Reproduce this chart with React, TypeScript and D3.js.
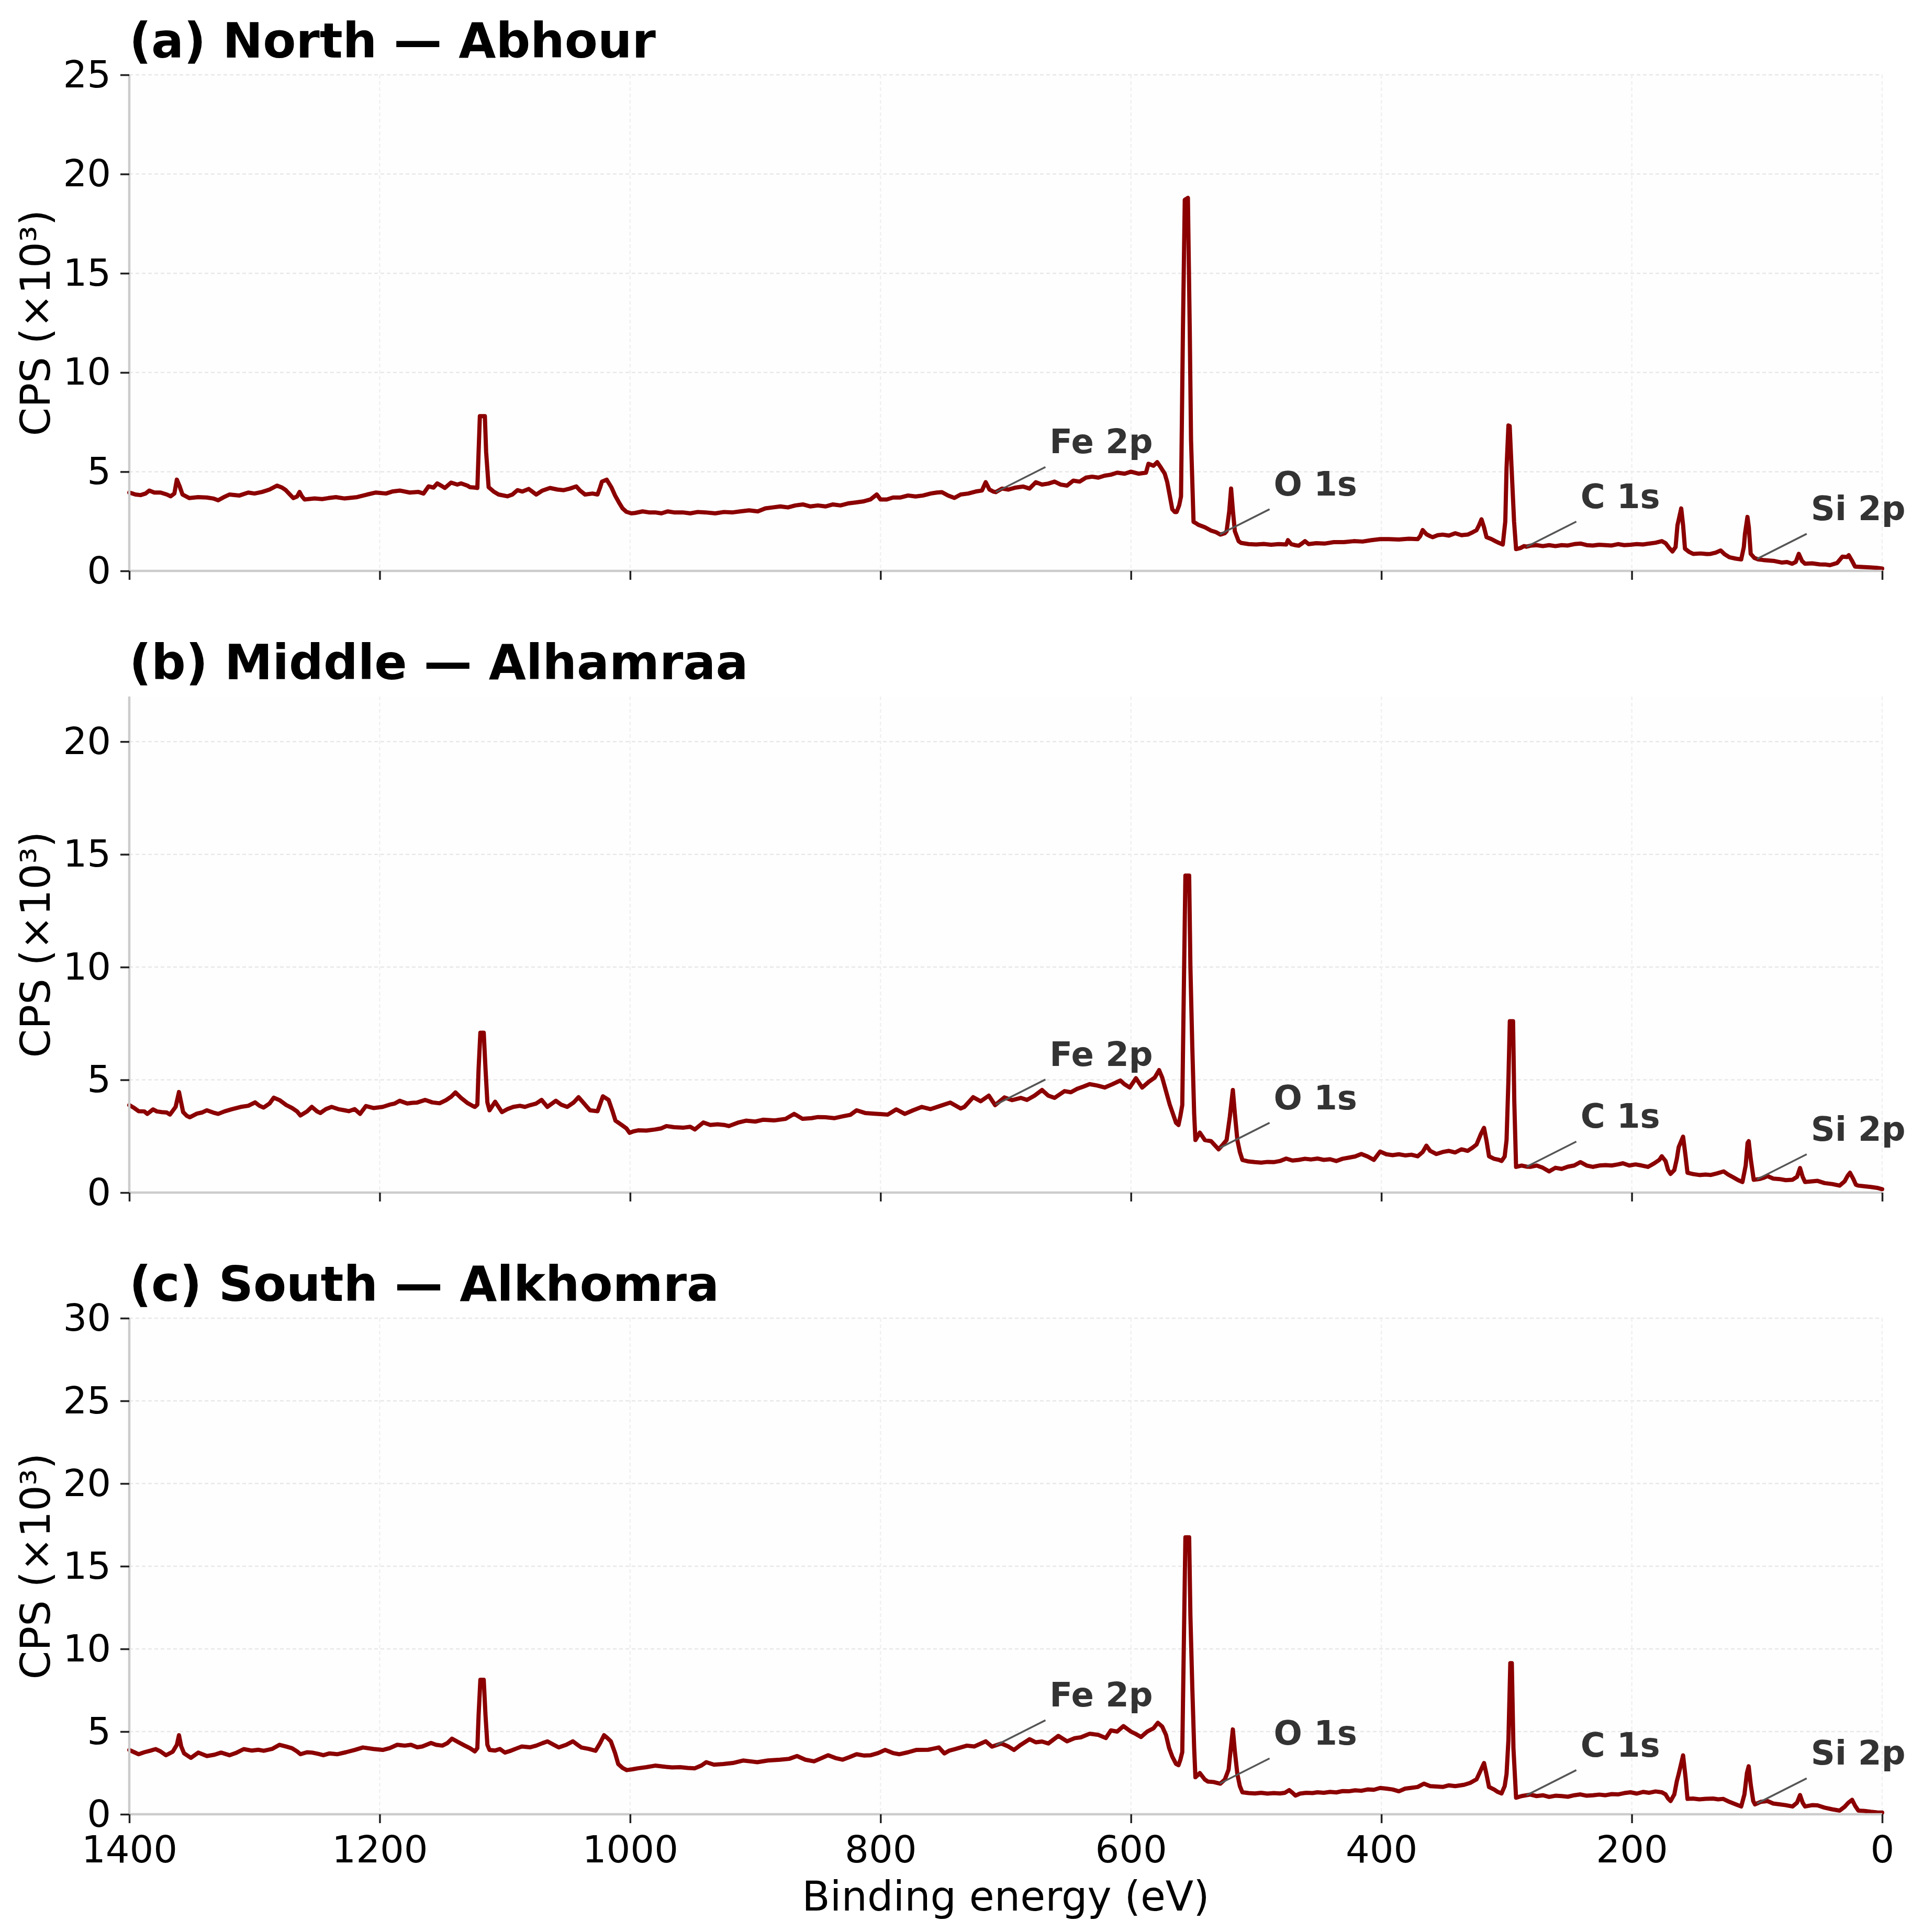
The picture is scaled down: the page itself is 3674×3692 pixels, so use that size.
import React, { useRef, useEffect } from "react";
import * as d3 from "d3";

// [binding energy (eV), CPS x10^3]
type Pt = [number, number];

const northSpectrum: Pt[] = [
  [1400, 3.95], [1395, 3.85], [1391, 3.82], [1387, 3.9], [1384, 4.05], [1380, 3.95], [1375, 3.95], [1370, 3.85],
  [1367, 3.76], [1364, 3.9], [1362, 4.6], [1360, 4.3], [1357.5, 3.85], [1352, 3.67], [1345, 3.72], [1338, 3.7],
  [1333, 3.65], [1329, 3.56], [1325, 3.7], [1320, 3.85], [1312, 3.8], [1305, 3.95], [1300, 3.9], [1294, 3.98],
  [1288, 4.1], [1282, 4.3], [1278, 4.2], [1275, 4.07], [1269, 3.67], [1266, 3.75], [1264, 3.98], [1262, 3.75],
  [1260, 3.6], [1252, 3.65], [1246, 3.62], [1241, 3.67], [1235, 3.72], [1228, 3.65], [1218, 3.72], [1210, 3.85],
  [1203, 3.95], [1195, 3.9], [1190, 4.0], [1184, 4.05], [1176, 3.95], [1169, 3.98], [1165, 3.9], [1161, 4.26],
  [1157, 4.2], [1154, 4.41], [1151, 4.3], [1148, 4.18], [1143, 4.45], [1138, 4.35], [1135, 4.41], [1130, 4.3],
  [1128, 4.22], [1124, 4.2], [1122, 4.18], [1121, 6.0], [1120, 7.8], [1116, 7.8], [1115, 6.0], [1113, 4.22],
  [1109, 4.0], [1105, 3.85], [1098, 3.76], [1094, 3.85], [1090, 4.07], [1086, 4.0], [1081, 4.13], [1075, 3.85],
  [1070, 4.05], [1064, 4.18], [1058, 4.1], [1053, 4.07], [1048, 4.15], [1043, 4.26], [1040, 4.05], [1036, 3.85],
  [1030, 3.9], [1026, 3.85], [1024, 4.2], [1022.5, 4.5], [1018.7, 4.6], [1015, 4.22], [1012, 3.8], [1009, 3.46],
  [1006, 3.15], [1003, 2.98], [999, 2.9], [996, 2.92], [990, 3.0], [985, 2.95], [980, 2.95], [975, 2.9],
  [970, 3.0], [965, 2.95], [958, 2.95], [952, 2.9], [946, 2.97], [940, 2.95], [932, 2.9], [925, 2.97],
  [918, 2.95], [912, 3.0], [905, 3.05], [898, 3.0], [892, 3.15], [886, 3.2], [880, 3.25], [874, 3.2],
  [868, 3.3], [862, 3.35], [856, 3.25], [850, 3.3], [844, 3.25], [838, 3.35], [832, 3.3], [826, 3.4],
  [820, 3.45], [814, 3.5], [808, 3.6], [803, 3.85], [800, 3.6], [795, 3.6], [790, 3.7], [784, 3.7],
  [778, 3.8], [772, 3.75], [766, 3.8], [760, 3.9], [755, 3.95], [751, 3.97], [746, 3.8], [741, 3.68],
  [736, 3.85], [730, 3.9], [724, 4.0], [719, 4.05], [716, 4.47], [713, 4.1], [710, 4.0], [708, 3.97],
  [703, 4.15], [698, 4.1], [692, 4.2], [686, 4.25], [681, 4.15], [676, 4.47], [671, 4.35], [666, 4.4],
  [661, 4.5], [656, 4.35], [651, 4.3], [646, 4.55], [641, 4.5], [636, 4.7], [631, 4.75], [626, 4.7],
  [621, 4.8], [616, 4.85], [611, 4.95], [605, 4.9], [600, 5.0], [594, 4.9], [588, 4.95], [586, 5.4],
  [582, 5.3], [579, 5.48], [576, 5.2], [573, 4.9], [571, 4.47], [569, 3.8], [567, 3.11], [565, 2.97],
  [563.5, 2.97], [561.5, 3.3], [560, 3.75], [558.5, 12.0], [557, 18.7], [554.5, 18.8], [553, 12.0], [552, 6.6],
  [550, 2.47], [548, 2.4], [546, 2.32], [541, 2.2], [536, 2.03], [532, 1.95], [528.6, 1.83], [525, 1.9],
  [523.6, 2.0], [521.5, 3.0], [520, 4.15], [518.5, 3.0], [517, 2.0], [514, 1.5], [512, 1.41], [506, 1.35],
  [500, 1.33], [494, 1.36], [488, 1.32], [482, 1.35], [476, 1.33], [474.6, 1.55], [472, 1.35], [469, 1.3],
  [466, 1.27], [463, 1.4], [461, 1.5], [458, 1.35], [452, 1.4], [445, 1.38], [438, 1.45], [430, 1.45],
  [422, 1.5], [415, 1.48], [408, 1.55], [401, 1.6], [394, 1.6], [386, 1.58], [378, 1.62], [371, 1.6],
  [369, 1.75], [367, 2.06], [364, 1.85], [361, 1.75], [359, 1.7], [355, 1.8], [351, 1.83], [346, 1.78],
  [341, 1.9], [336, 1.8], [331, 1.83], [327, 1.95], [324, 2.05], [322, 2.3], [320, 2.6], [318, 2.2],
  [316, 1.7], [312, 1.6], [309, 1.5], [306, 1.41], [303, 1.33], [301, 2.5], [300, 5.2], [298.5, 7.33],
  [297.5, 7.3], [296, 5.2], [294, 2.5], [292.4, 1.1], [289, 1.15], [286, 1.25], [284, 1.22], [281, 1.27],
  [276, 1.3], [271, 1.25], [266, 1.3], [261, 1.25], [256, 1.3], [251, 1.28], [246, 1.35], [241, 1.38],
  [236, 1.3], [231, 1.28], [226, 1.32], [221, 1.3], [216, 1.28], [211, 1.35], [206, 1.3], [201, 1.32],
  [196, 1.35], [191, 1.33], [186, 1.38], [181, 1.42], [176, 1.5], [173, 1.4], [170, 1.15], [167.5, 0.98],
  [165, 1.2], [163.5, 2.3], [160.5, 3.15], [159, 2.3], [157.5, 1.12], [154, 0.95], [151, 0.86], [145, 0.88],
  [140, 0.85], [137, 0.86], [133, 0.92], [129, 1.03], [126, 0.85], [122, 0.69], [117, 0.62], [112.6, 0.58],
  [110.5, 1.2], [109.6, 1.86], [107.6, 2.72], [106.5, 2.2], [105, 0.86], [102, 0.65], [99, 0.58], [95, 0.55],
  [90, 0.52], [86, 0.5], [80, 0.42], [76, 0.45], [72, 0.36], [69, 0.45], [66.6, 0.86], [64, 0.5],
  [61.6, 0.36], [56, 0.38], [50, 0.33], [45, 0.32], [41.7, 0.29], [36, 0.4], [31.7, 0.72], [28, 0.7],
  [26.7, 0.79], [24, 0.5], [21.7, 0.22], [16, 0.2], [10, 0.18], [4, 0.15], [0, 0.12],
];

const middleSpectrum: Pt[] = [
  [1400, 3.88], [1396, 3.75], [1392.5, 3.61], [1388, 3.6], [1385.6, 3.49], [1381, 3.69], [1378, 3.6], [1374, 3.57],
  [1370, 3.55], [1367.5, 3.46], [1363, 3.8], [1360.3, 4.46], [1357, 3.57], [1354, 3.4], [1351.7, 3.34], [1346, 3.5],
  [1342, 3.55], [1338, 3.65], [1333, 3.55], [1329, 3.49], [1324, 3.6], [1318, 3.7], [1311, 3.8], [1305, 3.85],
  [1299.5, 4.0], [1296, 3.85], [1292.7, 3.77], [1288, 3.95], [1284.6, 4.21], [1280, 4.1], [1274.6, 3.88], [1270, 3.75],
  [1266, 3.6], [1263.3, 3.42], [1258, 3.6], [1254.2, 3.8], [1250, 3.6], [1247.4, 3.53], [1243, 3.7], [1238.4, 3.8],
  [1233, 3.7], [1228, 3.65], [1224.7, 3.61], [1220, 3.7], [1215.7, 3.49], [1211, 3.84], [1205, 3.75], [1197.6, 3.8],
  [1192, 3.9], [1188, 3.95], [1184, 4.07], [1178, 3.95], [1174, 3.98], [1170.4, 3.99], [1163.6, 4.11], [1158, 4.0],
  [1152.2, 3.96], [1147, 4.1], [1143, 4.25], [1139.5, 4.44], [1135, 4.2], [1129.6, 3.96], [1126, 3.85], [1124, 3.8],
  [1122, 3.9], [1121, 5.5], [1119.6, 7.09], [1116.9, 7.09], [1115.5, 5.5], [1114, 4.0], [1112.3, 3.65], [1107.8, 4.03],
  [1102.4, 3.57], [1098, 3.7], [1093.3, 3.8], [1088, 3.85], [1084, 3.8], [1079.7, 3.88], [1075, 3.95], [1070.7, 4.11],
  [1066.1, 3.8], [1059.3, 4.07], [1055, 3.9], [1050.2, 3.8], [1045, 4.0], [1041.2, 4.23], [1036, 3.9], [1032.1, 3.65],
  [1026, 3.61], [1023.5, 4.0], [1021.7, 4.27], [1017.2, 4.11], [1014, 3.6], [1011.7, 3.19], [1006.3, 2.98], [1003, 2.85],
  [1000.4, 2.65], [997, 2.72], [993.6, 2.76], [987, 2.75], [980, 2.8], [975, 2.85], [971, 2.95], [965, 2.9],
  [957.3, 2.88], [952, 2.92], [948.3, 2.8], [941.5, 3.11], [936, 3.0], [930.2, 3.03], [925, 3.0], [921.1, 2.95],
  [914, 3.1], [907.5, 3.19], [900, 3.15], [893.9, 3.23], [885, 3.2], [875.8, 3.27], [869, 3.49], [862.2, 3.27],
  [855, 3.3], [850, 3.35], [844, 3.34], [837, 3.3], [830.4, 3.38], [824, 3.45], [819.1, 3.65], [812.3, 3.53],
  [805, 3.5], [800, 3.48], [794.2, 3.46], [787.4, 3.69], [780.6, 3.49], [774, 3.65], [767, 3.8], [760, 3.7],
  [752, 3.85], [744.3, 3.99], [736, 3.73], [733, 3.8], [726, 4.23], [720, 4.05], [713.5, 4.3], [708.5, 3.88],
  [701, 4.22], [695, 4.1], [688, 4.2], [683, 4.11], [677, 4.3], [671, 4.55], [666, 4.3], [661, 4.2],
  [653, 4.5], [648, 4.45], [643, 4.6], [638, 4.7], [633, 4.81], [627, 4.75], [621, 4.66], [615, 4.8],
  [608.5, 4.97], [605, 4.8], [601, 4.66], [596, 5.07], [591, 4.66], [586, 4.9], [581, 5.1], [577.5, 5.43],
  [575, 5.1], [572, 4.5], [569, 3.9], [567, 3.58], [564, 3.1], [562, 3.0], [560.5, 3.4], [559, 3.88],
  [558, 8.0], [556.5, 14.06], [553.5, 14.06], [552.5, 10.0], [551, 6.48], [549.5, 3.5], [548.5, 2.33], [545, 2.66],
  [541, 2.33], [536, 2.28], [533, 2.1], [530, 1.92], [527, 2.1], [523.6, 2.33], [521, 3.37], [518.6, 4.55],
  [517, 3.5], [515, 2.33], [513, 1.8], [511, 1.45], [506, 1.38], [501, 1.35], [496, 1.33], [491, 1.36],
  [486, 1.35], [481, 1.4], [476, 1.51], [471, 1.42], [466, 1.45], [461, 1.5], [456, 1.47], [451, 1.51],
  [446, 1.45], [441, 1.48], [436, 1.4], [431, 1.5], [426, 1.55], [421, 1.6], [416, 1.71], [411, 1.6],
  [406, 1.45], [401, 1.82], [396, 1.7], [391, 1.66], [386, 1.7], [381, 1.65], [376, 1.68], [371, 1.61],
  [367, 1.8], [364, 2.08], [361, 1.85], [356, 1.71], [351, 1.8], [346, 1.85], [341, 1.78], [336, 1.92],
  [331, 1.85], [327, 2.0], [324, 2.13], [320.5, 2.6], [318, 2.87], [316, 2.3], [314, 1.61], [310, 1.5],
  [306, 1.45], [304, 1.4], [301.5, 1.6], [300, 2.33], [298.5, 5.0], [297.4, 7.6], [294.8, 7.6], [293.8, 4.0],
  [292.4, 1.14], [288, 1.2], [284, 1.15], [281, 1.14], [276, 1.2], [271, 1.1], [266, 0.94], [261, 1.1],
  [256, 1.05], [251, 1.15], [246, 1.2], [241, 1.35], [236, 1.2], [231, 1.14], [226, 1.2], [221, 1.22],
  [216, 1.2], [211, 1.25], [207, 1.3], [202, 1.2], [197, 1.25], [192, 1.2], [187, 1.14], [182, 1.3],
  [178, 1.45], [176, 1.61], [173, 1.4], [171, 1.0], [169, 0.83], [166, 1.0], [164, 1.5], [162.5, 2.02],
  [159, 2.48], [157, 1.6], [155.5, 0.88], [151, 0.82], [146, 0.78], [141, 0.8], [137, 0.78], [132, 0.85],
  [126.6, 0.94], [123, 0.8], [119, 0.68], [115, 0.55], [111.6, 0.47], [109, 1.2], [107.5, 2.2], [106.6, 2.28],
  [105, 1.5], [102.6, 0.57], [98, 0.6], [95, 0.65], [91.6, 0.73], [87, 0.62], [82, 0.6], [77, 0.55],
  [71.6, 0.57], [68, 0.7], [65.6, 1.09], [63.5, 0.7], [61.6, 0.47], [56, 0.5], [51.6, 0.52], [46, 0.42],
  [40, 0.38], [34, 0.31], [30, 0.5], [27.5, 0.75], [25.7, 0.88], [23, 0.6], [21, 0.35], [19, 0.31],
  [14, 0.28], [9, 0.25], [4, 0.21], [0, 0.15],
];

const southSpectrum: Pt[] = [
  [1400, 3.89], [1396, 3.75], [1392.5, 3.63], [1388, 3.75], [1383, 3.85], [1379, 3.94], [1375, 3.8], [1370.7, 3.57],
  [1365.3, 3.78], [1362, 4.2], [1360.3, 4.78], [1358.5, 4.1], [1356.2, 3.68], [1350.8, 3.41], [1344.9, 3.73], [1338, 3.52],
  [1332, 3.6], [1326.7, 3.73], [1320, 3.57], [1315, 3.7], [1308.6, 3.94], [1302, 3.85], [1297, 3.9], [1292.7, 3.84],
  [1286, 3.95], [1280, 4.2], [1275, 4.1], [1270, 3.99], [1266, 3.8], [1263.3, 3.63], [1258, 3.75], [1254, 3.73],
  [1249, 3.65], [1245, 3.57], [1240, 3.68], [1234, 3.63], [1227, 3.75], [1220, 3.89], [1213.4, 4.04], [1205, 3.95],
  [1197.6, 3.89], [1192, 4.0], [1186, 4.2], [1180, 4.15], [1175, 4.2], [1170, 4.05], [1166, 4.1], [1159, 4.31],
  [1155, 4.2], [1150, 4.15], [1146, 4.3], [1142.3, 4.57], [1137, 4.35], [1132, 4.15], [1128, 4.0], [1124, 3.8],
  [1122, 4.0], [1121, 6.0], [1119.6, 8.13], [1116.9, 8.13], [1115.5, 6.0], [1114, 4.2], [1112.3, 3.89], [1108, 3.85],
  [1104, 3.95], [1100, 3.73], [1095, 3.85], [1090, 4.0], [1086.5, 4.1], [1080, 4.05], [1075, 4.15], [1070, 4.3],
  [1066, 4.41], [1061, 4.2], [1057, 4.04], [1051, 4.2], [1045.7, 4.41], [1042, 4.2], [1039, 4.04], [1033, 3.95],
  [1027.6, 3.84], [1024, 4.3], [1020.8, 4.78], [1018, 4.6], [1015.4, 4.41], [1012, 3.7], [1009.5, 3.04], [1006, 2.8],
  [1002.7, 2.67], [998, 2.72], [993.6, 2.78], [987, 2.85], [980, 2.94], [973, 2.88], [966.4, 2.83], [960, 2.85],
  [954, 2.8], [948.3, 2.78], [943, 2.95], [939.2, 3.15], [933, 3.0], [925.6, 3.04], [918, 3.1], [909.8, 3.25],
  [904, 3.2], [898.4, 3.15], [890, 3.25], [880.3, 3.3], [873, 3.35], [866.7, 3.52], [860, 3.3], [853.1, 3.2],
  [847, 3.4], [841.8, 3.57], [836, 3.4], [830.4, 3.3], [825, 3.45], [819.1, 3.63], [813, 3.55], [807.8, 3.57],
  [802, 3.7], [796.4, 3.89], [790, 3.7], [785.1, 3.63], [778, 3.75], [771.5, 3.89], [762, 3.9], [753.4, 4.04],
  [749, 3.68], [745, 3.85], [740, 3.95], [731, 4.15], [725, 4.1], [716, 4.41], [711, 4.09], [703.5, 4.28],
  [698, 4.1], [693.4, 3.89], [688, 4.2], [681, 4.54], [676, 4.35], [671, 4.4], [666, 4.28], [658, 4.74],
  [651, 4.41], [645, 4.6], [640, 4.65], [633, 4.87], [626, 4.8], [620, 4.61], [616, 5.07], [611, 5.0],
  [606, 5.33], [600, 5.0], [596, 4.85], [592, 4.67], [587, 5.0], [582, 5.2], [578.5, 5.53], [575, 5.3],
  [572, 4.8], [569.5, 4.0], [567, 3.49], [564, 3.05], [562, 2.97], [560.5, 3.3], [559, 3.76], [558, 9.0],
  [556.5, 16.75], [553.5, 16.75], [552.5, 12.0], [551, 7.7], [549.5, 4.0], [548.5, 2.24], [545, 2.49], [541, 2.1],
  [538.6, 1.98], [534, 1.95], [528.6, 1.85], [525, 2.1], [522, 2.7], [520.5, 3.8], [518.6, 5.13], [517, 3.8],
  [515, 2.43], [513, 1.7], [511, 1.33], [506, 1.28], [501, 1.26], [496, 1.3], [491, 1.25], [486, 1.28],
  [481, 1.26], [477, 1.3], [473.6, 1.46], [471, 1.3], [468.6, 1.13], [465, 1.25], [460, 1.3], [455, 1.28],
  [451, 1.33], [446, 1.3], [441, 1.35], [436, 1.32], [431, 1.4], [426, 1.39], [421, 1.45], [416, 1.42],
  [411, 1.5], [406, 1.48], [401, 1.59], [396, 1.55], [391, 1.5], [386, 1.39], [381, 1.55], [376, 1.6],
  [371, 1.65], [366, 1.85], [361, 1.7], [356, 1.68], [351, 1.65], [346, 1.75], [341, 1.7], [334, 1.78],
  [329, 1.9], [324, 2.11], [321, 2.6], [318, 3.1], [316, 2.4], [314, 1.65], [310, 1.5], [307, 1.35],
  [304, 1.26], [301.5, 1.7], [300, 2.43], [298.5, 4.5], [297, 9.14], [295.8, 9.14], [294.5, 4.0], [292.4, 1.0],
  [288, 1.1], [284, 1.15], [281, 1.19], [276, 1.1], [271, 1.15], [266, 1.05], [261, 1.12], [256, 1.1],
  [251, 1.06], [246, 1.15], [241, 1.2], [236, 1.12], [231, 1.15], [226, 1.19], [221, 1.15], [216, 1.22],
  [211, 1.2], [206, 1.28], [201, 1.33], [196, 1.25], [191, 1.35], [186, 1.3], [181, 1.38], [176, 1.33],
  [173, 1.2], [171, 0.95], [169, 0.8], [166, 1.2], [164, 2.0], [162.5, 2.44], [159, 3.56], [157, 2.2],
  [155.5, 0.93], [151, 0.95], [146, 0.9], [141, 0.93], [135, 0.95], [131, 0.9], [127, 0.93], [122, 0.75],
  [117, 0.6], [112.6, 0.47], [110, 1.2], [108, 2.5], [106.6, 2.9], [105, 1.8], [103, 0.8], [101.6, 0.6],
  [97, 0.75], [91.6, 0.8], [87, 0.65], [82, 0.6], [77, 0.55], [71.6, 0.47], [68, 0.7], [65.6, 1.16],
  [63.5, 0.7], [61.6, 0.47], [56, 0.55], [51.6, 0.54], [46, 0.4], [40, 0.3], [34, 0.22], [30, 0.45],
  [27, 0.7], [24, 0.87], [21.5, 0.5], [19, 0.22], [14, 0.2], [9, 0.15], [4, 0.11], [0, 0.1],
];

const panelTitles = ["(a) North — Abhour", "(b) Middle — Alhamraa", "(c) South — Alkhomra"];
const panelYMax = [25, 22, 30];
const xTicks = [1400, 1200, 1000, 800, 600, 400, 200, 0];
const peakLabels = ["Fe 2p", "O 1s", "C 1s", "Si 2p"];
const peakEnergies = [708, 529, 284, 100];

const W = 3674;
const H = 3692;
const FONT = "'DejaVu Sans', sans-serif";

export default function App() {
  const ref = useRef<SVGSVGElement>(null);

  useEffect(() => {
    if (!ref.current) return;
    const svg = d3.select(ref.current);
    svg.selectAll("*").remove();

    const left = 247, right = 3596;
    const panelH = 948, step = 1188, firstTop = 143;
    const spectra = [northSpectrum, middleSpectrum, southSpectrum];

    const x = d3.scaleLinear().domain([1400, 0]).range([left, right]);

    // value of a spectrum at a given energy (used only to anchor the peak labels)
    const valueAt = (data: Pt[], e: number) => {
      for (let k = 0; k < data.length - 1; k++) {
        const [e0, v0] = data[k], [e1, v1] = data[k + 1];
        if (e <= e0 && e >= e1) return v0 + (v1 - v0) * (e0 - e) / (e0 - e1 || 1);
      }
      return data[data.length - 1][1];
    };

    spectra.forEach((data, i) => {
      const top = firstTop + i * step;
      const bottom = top + panelH;
      const y = d3.scaleLinear().domain([0, panelYMax[i]]).range([bottom, top]);
      const yTicks = d3.range(0, panelYMax[i] + 0.01, 5);
      const g = svg.append("g");

      // axes background
      g.append("rect")
        .attr("x", left).attr("y", top)
        .attr("width", right - left).attr("height", panelH)
        .attr("fill", "#fefefe");

      // grid
      g.selectAll("line.hgrid").data(yTicks).enter().append("line")
        .attr("x1", left).attr("x2", right)
        .attr("y1", d => y(d)).attr("y2", d => y(d))
        .attr("stroke", "#e8e8e8").attr("stroke-width", 2.5)
        .attr("stroke-dasharray", "7,5");
      g.selectAll("line.vgrid").data(xTicks).enter().append("line")
        .attr("x1", d => x(d)).attr("x2", d => x(d))
        .attr("y1", top).attr("y2", bottom)
        .attr("stroke", "#f0f0f0").attr("stroke-width", 2.5)
        .attr("stroke-dasharray", "7,5");

      // spectrum
      const line = d3.line<Pt>().x(d => x(d[0])).y(d => y(d[1]));
      g.append("path")
        .datum(data)
        .attr("d", line)
        .attr("fill", "none")
        .attr("stroke", "#8b0000")
        .attr("stroke-width", 8)
        .attr("stroke-linejoin", "round")
        .attr("stroke-linecap", "round");

      // peak annotations
      peakEnergies.forEach((e, k) => {
        const px = x(e);
        const py = y(valueAt(data, e));
        g.append("line")
          .attr("x1", px).attr("y1", py)
          .attr("x2", px + 95).attr("y2", py - 48)
          .attr("stroke", "#555").attr("stroke-width", 3.5);
        g.append("text")
          .attr("x", px + 103).attr("y", py - 74)
          .attr("font-family", FONT).attr("font-size", 64)
          .attr("font-weight", "bold").attr("fill", "#333")
          .text(peakLabels[k]);
      });

      // spines
      g.append("line")
        .attr("x1", left).attr("x2", left).attr("y1", top).attr("y2", bottom)
        .attr("stroke", "#cccccc").attr("stroke-width", 4.5);
      g.append("line")
        .attr("x1", left).attr("x2", right).attr("y1", bottom).attr("y2", bottom)
        .attr("stroke", "#cccccc").attr("stroke-width", 4.5);

      // y axis
      const yAxis = g.append("g")
        .attr("transform", `translate(${left},0)`)
        .call(d3.axisLeft(y).tickValues(yTicks).tickSize(17).tickPadding(18).tickFormat(d3.format("d")));
      yAxis.select(".domain").remove();
      yAxis.selectAll("line").attr("stroke", "#222").attr("stroke-width", 3.5);
      yAxis.selectAll("text")
        .attr("font-family", FONT).attr("font-size", 72).attr("fill", "#000");

      // x axis
      const xAxis = g.append("g")
        .attr("transform", `translate(0,${bottom})`)
        .call(d3.axisBottom(x).tickValues(xTicks).tickSize(17).tickPadding(24)
          .tickFormat(i === 2 ? d3.format("d") : () => ""));
      xAxis.select(".domain").remove();
      xAxis.selectAll("line").attr("stroke", "#222").attr("stroke-width", 3.5);
      xAxis.selectAll("text")
        .attr("font-family", FONT).attr("font-size", 72).attr("fill", "#000");

      // title
      g.append("text")
        .attr("x", left).attr("y", top - 33)
        .attr("font-family", FONT).attr("font-size", 92)
        .attr("font-weight", "bold").attr("fill", "#000")
        .text(panelTitles[i]);

      // y label
      g.append("text")
        .attr("transform", `translate(95,${(top + bottom) / 2}) rotate(-90)`)
        .attr("text-anchor", "middle")
        .attr("font-family", FONT).attr("font-size", 78).attr("fill", "#000")
        .text("CPS (×10³)");
    });

    // x label
    svg.append("text")
      .attr("x", (left + right) / 2).attr("y", 3651)
      .attr("text-anchor", "middle")
      .attr("font-family", FONT).attr("font-size", 78).attr("fill", "#000")
      .text("Binding energy (eV)");
  }, []);

  return (
    <div>
      <style>{"body{margin:0;background:#fff}"}</style>
      <svg ref={ref} width={W} height={H} style={{ display: "block" }} />
    </div>
  );
}
